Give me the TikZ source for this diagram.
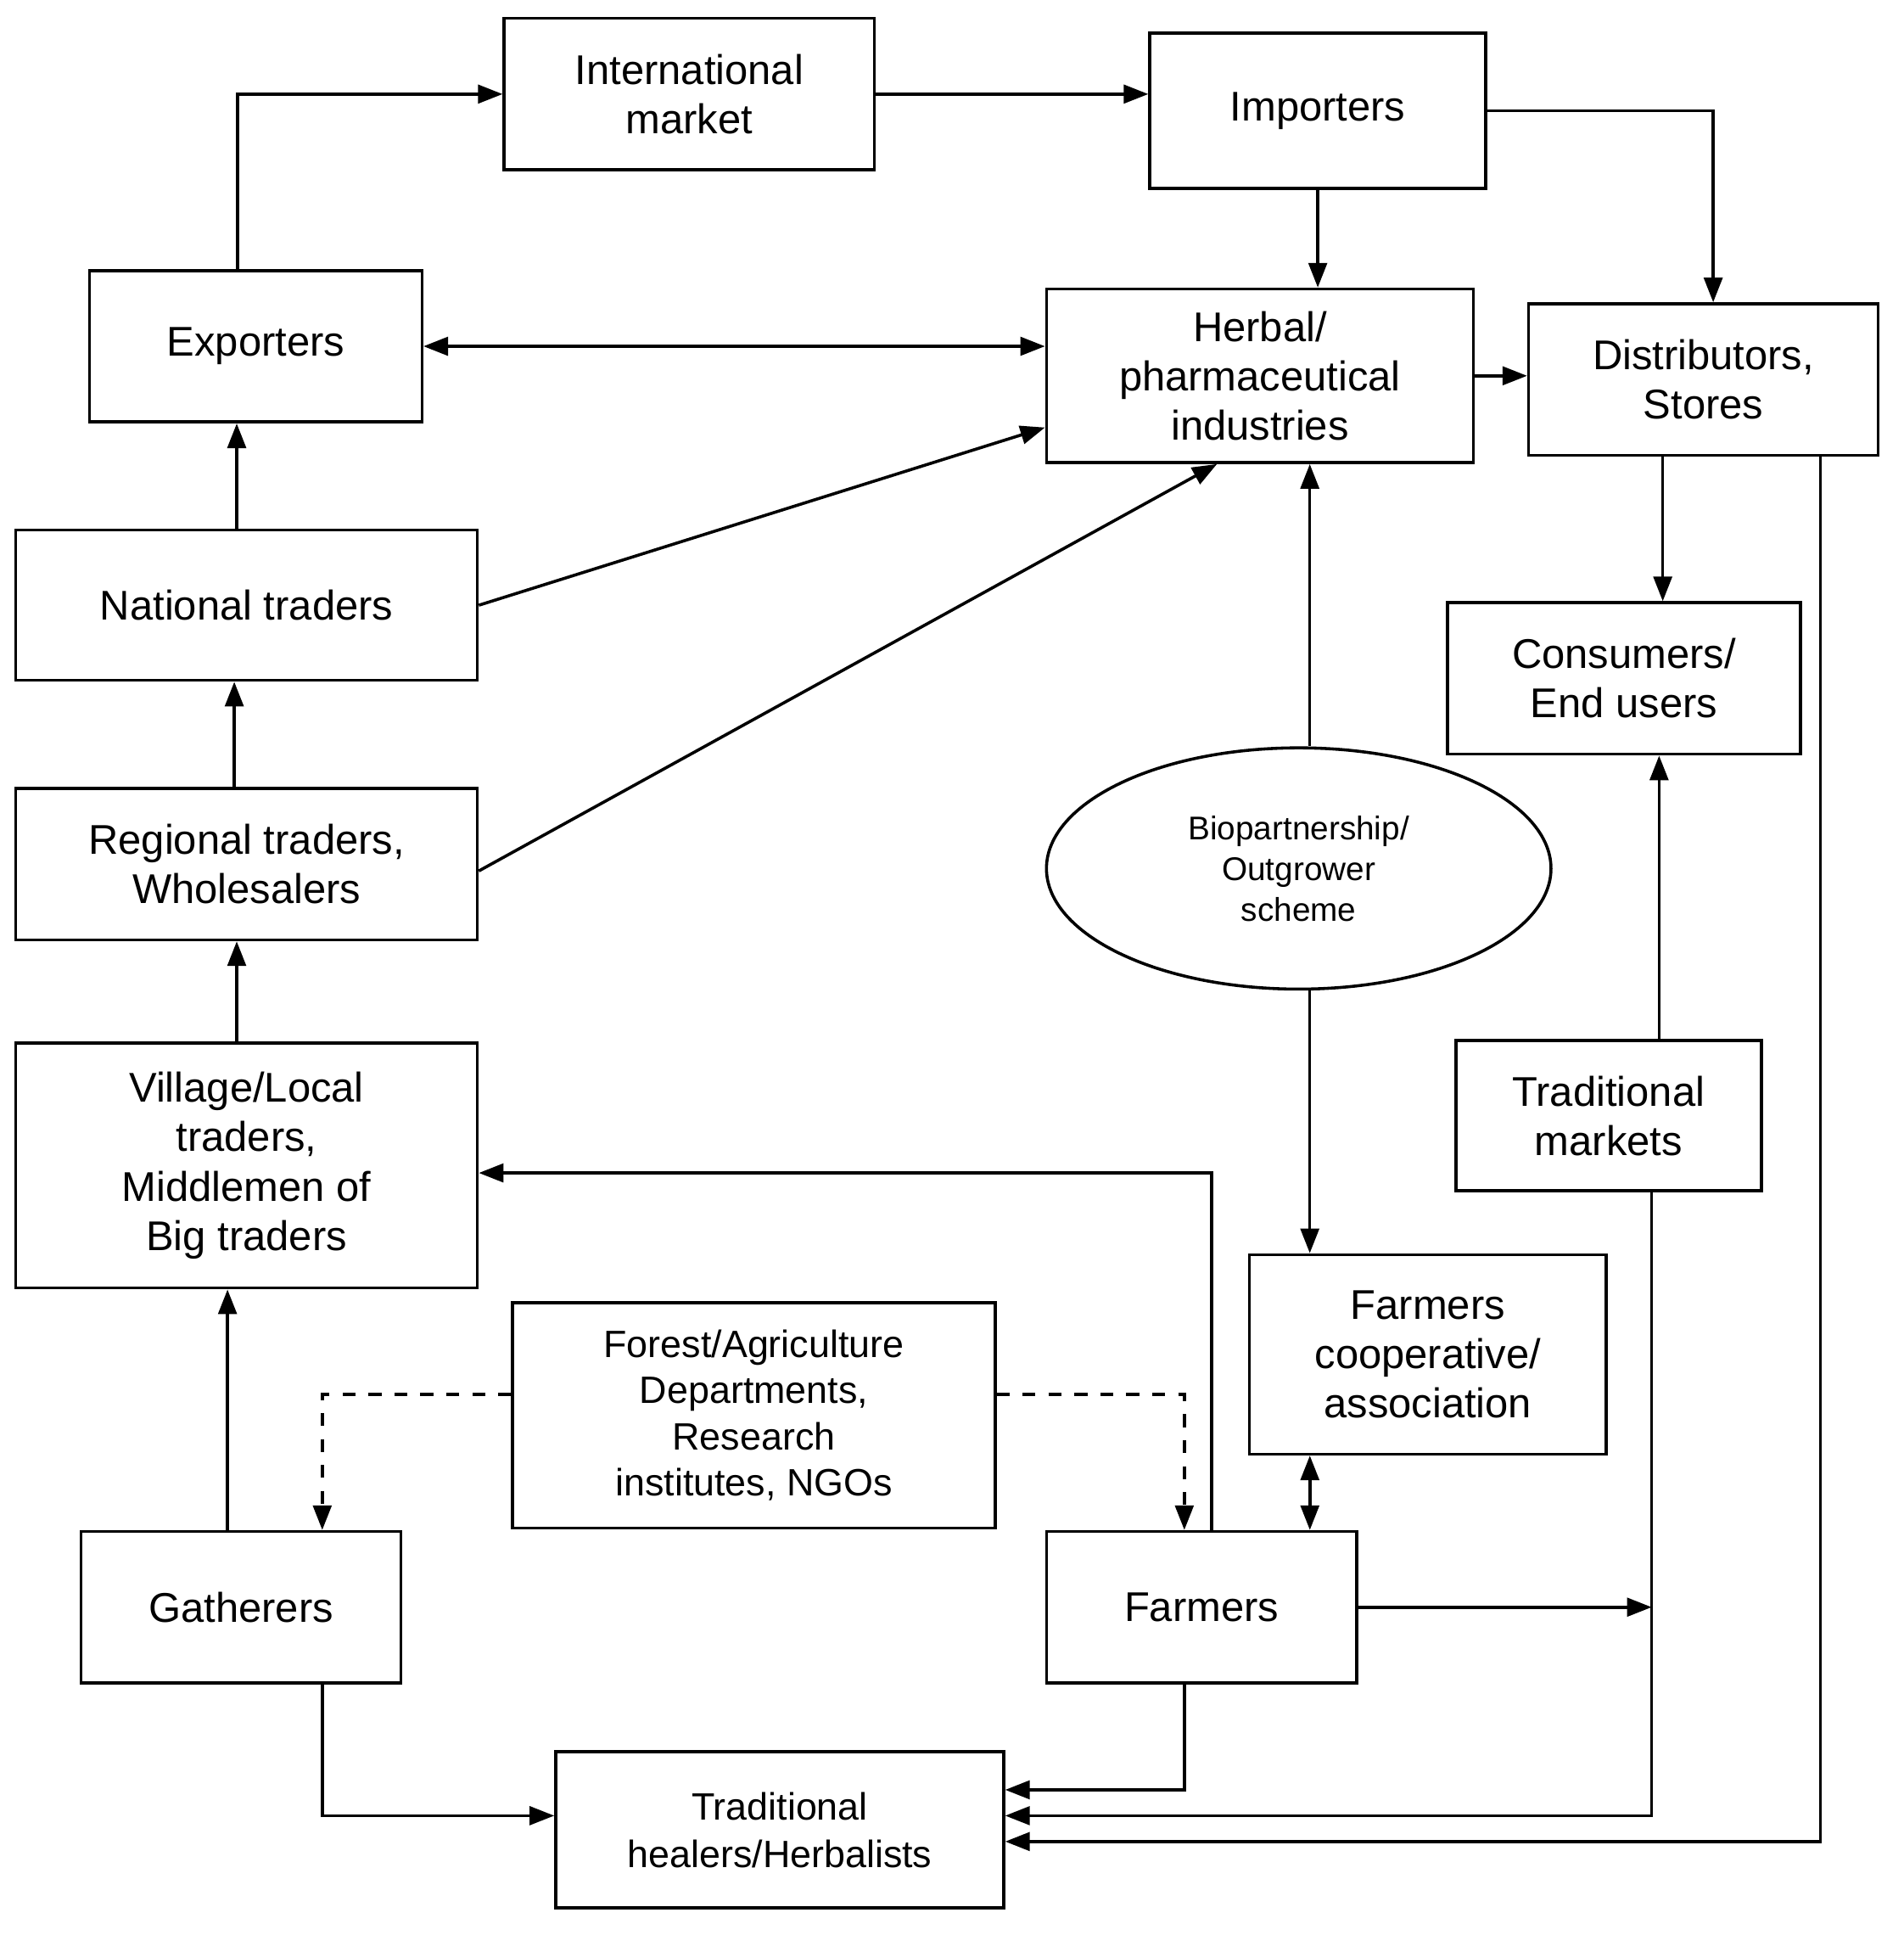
\documentclass[tikz,border=0pt]{standalone}
\usepackage{fontspec}
\setmainfont{Liberation Sans}
\usetikzlibrary{arrows.meta,shapes.geometric}
\begin{document}
\begin{tikzpicture}[x=0.01cm,y=-0.01cm,
 bx/.style={draw,line width=0.7pt,align=center,inner sep=0pt,font=\fontsize{9.6}{11.4}\selectfont},
 a/.style={line width=0.7pt,-{Triangle[length=0.2cm,width=0.15cm]}},
 ab/.style={line width=0.7pt,{Triangle[length=0.2cm,width=0.15cm]}-{Triangle[length=0.2cm,width=0.15cm]}},
 d/.style={a,dashed}]
\useasboundingbox (0,0) rectangle (1548,1573);
\node[bx,minimum width=3.01cm,minimum height=1.23cm] (intl) at (560.5,76.5) {International\\market};
\node[bx,minimum width=2.73cm,minimum height=1.26cm] (imp) at (1071.5,90) {Importers};
\node[bx,minimum width=2.70cm,minimum height=1.23cm] (exp) at (208,281.5) {Exporters};
\node[bx,minimum width=3.47cm,minimum height=1.41cm] (herb) at (1024.5,305.5) {Herbal/\\pharmaceutical\\industries};
\node[bx,minimum width=2.84cm,minimum height=1.23cm] (dist) at (1385,308.5) {Distributors,\\Stores};
\node[bx,minimum width=3.75cm,minimum height=1.22cm] (nat) at (200.5,492) {National traders};
\node[bx,minimum width=2.87cm,minimum height=1.23cm] (cons) at (1320.5,551.5) {Consumers/\\End users};
\node[bx,minimum width=3.75cm,minimum height=1.23cm] (reg) at (200.5,702.5) {Regional traders,\\Wholesalers};
\node[draw,line width=0.7pt,ellipse,inner sep=0pt,align=center,minimum width=4.10cm,minimum height=1.96cm,font=\fontsize{7.6}{9.4}\selectfont] (bio) at (1056,706) {Biopartnership/\\Outgrower\\scheme};
\node[bx,minimum width=3.75cm,minimum height=1.99cm] (vil) at (200.5,947.5) {Village/Local\\traders,\\Middlemen of\\Big traders};
\node[bx,minimum width=2.48cm,minimum height=1.22cm] (tmk) at (1308,907) {Traditional\\markets};
\node[bx,minimum width=2.90cm,minimum height=1.62cm] (coop) at (1161,1101) {Farmers\\cooperative/\\association};
\node[bx,minimum width=3.92cm,minimum height=1.83cm,font=\fontsize{8.8}{10.6}\selectfont] (for) at (613,1150.5) {Forest/Agriculture\\Departments,\\Research\\institutes, NGOs};
\node[bx,minimum width=2.60cm,minimum height=1.23cm] (gat) at (196,1306.5) {Gatherers};
\node[bx,minimum width=2.52cm,minimum height=1.23cm] (farm) at (977,1306.5) {Farmers};
\node[bx,minimum width=3.64cm,minimum height=1.27cm,font=\fontsize{8.8}{11}\selectfont] (heal) at (634,1487.5) {Traditional\\healers/Herbalists};
\coordinate (j) at (1343,1302);
\draw[a] ([xshift=-0.15cm]exp.north) |- (intl.west);
\draw[a] (intl.east) -- (intl.east -| imp.west);
\draw[a] (imp.east) -| ([xshift=0.08cm]dist.north);
\draw[a] (imp.south) -- (imp.south |- herb.north);
\draw[ab] (exp.east) -- (exp.east -| herb.west);
\draw[a] (herb.east) -- (herb.east -| dist.west);
\draw[a] (nat.east) -- ([yshift=-0.42cm]herb.west);
\draw[a] ([yshift=-0.055cm]reg.east) -- ([xshift=-0.35cm]herb.south);
\draw[a] ([xshift=-0.08cm]nat.north) -- ([xshift=-0.08cm]nat.north |- exp.south);
\draw[a] ([xshift=-0.1cm]reg.north) -- ([xshift=-0.1cm]reg.north |- nat.south);
\draw[a] ([xshift=-0.08cm]vil.north) -- ([xshift=-0.08cm]vil.north |- reg.south);
\draw[a] ([xshift=0.09cm]bio.north) -- ([xshift=0.09cm]bio.north |- herb.south);
\draw[a] ([xshift=0.09cm]bio.south) -- ([xshift=0.09cm]bio.south |- coop.north);
\draw[a] ([xshift=-0.33cm]dist.south) -- ([xshift=-0.33cm]dist.south |- cons.north);
\draw[a] ([xshift=0.41cm]tmk.north) -- ([xshift=0.41cm]tmk.north |- cons.south);
\draw[a] ([xshift=0.08cm]farm.north) |- ([yshift=-0.06cm]vil.east);
\draw[a] ([xshift=-0.11cm]gat.north) -- ([xshift=-0.11cm]gat.north |- vil.south);
\draw[d] ([yshift=0.17cm]for.west) -| ([xshift=0.66cm]gat.north);
\draw[d] ([yshift=0.17cm]for.east) -| ([xshift=-0.14cm]farm.north);
\draw[ab] ([xshift=0.88cm]farm.north) -- ([xshift=0.88cm]farm.north |- coop.south);
\draw[a] (farm.east) -- (farm.east -| j);
\draw[a] ([xshift=0.35cm]tmk.south) |- ([yshift=0.115cm]heal.east);
\draw[a] ([xshift=0.66cm]gat.south) |- ([yshift=0.115cm]heal.west);
\draw[a] ([xshift=-0.14cm]farm.south) |- ([yshift=0.325cm]heal.east);
\draw[a] ([xshift=0.95cm]dist.south) |- ([yshift=-0.095cm]heal.east);
\end{tikzpicture}
\end{document}
